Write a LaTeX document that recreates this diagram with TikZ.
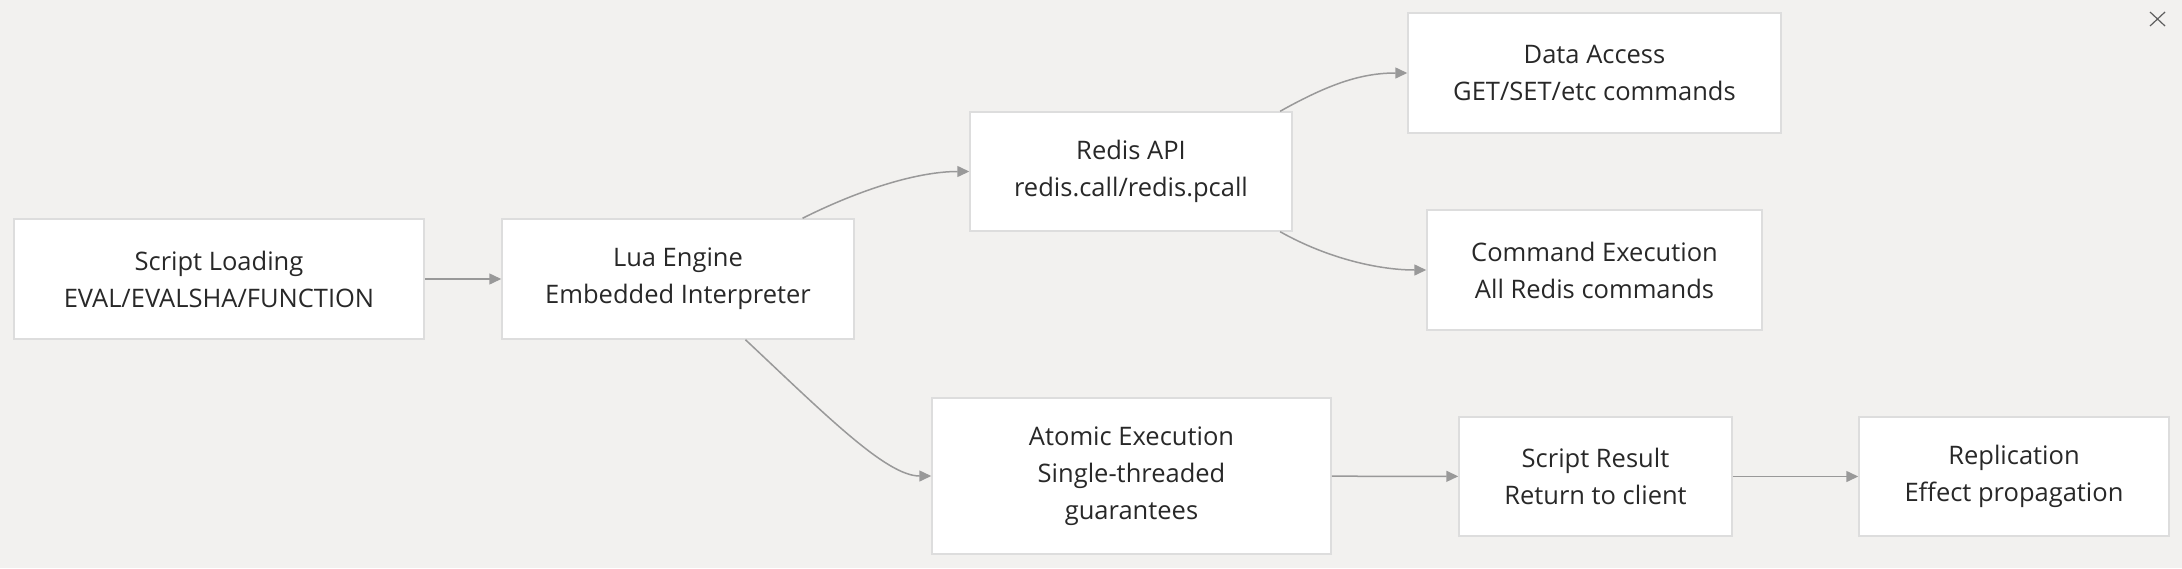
\documentclass[tikz,border=0pt]{standalone}
\usepackage{fontspec}
\setmainfont{Open Sans}
\usetikzlibrary{arrows.meta,positioning}
\definecolor{bggray}{RGB}{242,241,239}
\definecolor{boxline}{RGB}{221,221,221}
\definecolor{linkgray}{RGB}{153,153,153}
\definecolor{textgray}{RGB}{40,40,40}

\begin{document}
\begin{tikzpicture}[
    x=1pt, y=-1pt,
    box/.style={draw=boxline, fill=white, line width=1.5pt, align=center, text=textgray, font=\fontsize{25.5}{37}\selectfont, inner sep=0pt},
    arrow/.style={-{Triangle[length=12pt,width=11pt]}, draw=linkgray, line width=1.5pt}
]
    % background
    \fill[bggray] (0,0) rectangle (2182,568);

    % nodes
    \node[box, minimum width=410pt, minimum height=120pt] (load) at (219,279) {Script Loading\\EVAL/EVALSHA/FUNCTION};
    \node[box, minimum width=352pt, minimum height=120pt] (lua) at (678,279) {Lua Engine\\Embedded Interpreter};
    \node[box, minimum width=322pt, minimum height=119pt] (api) at (1131,171.5) {Redis API\\redis.call/redis.pcall};
    \node[box, minimum width=399pt, minimum height=156pt] (atomic) at (1131.5,476) {Atomic Execution\\Single-threaded\\guarantees};
    \node[box, minimum width=373pt, minimum height=120pt] (data) at (1594.5,73) {Data Access\\GET/SET/etc commands};
    \node[box, minimum width=335pt, minimum height=120pt] (cmd) at (1594.5,270) {Command Execution\\All Redis commands};
    \node[box, minimum width=273pt, minimum height=119pt] (result) at (1595.5,476.5) {Script Result\\Return to client};
    \node[box, minimum width=310pt, minimum height=119pt] (repl) at (2014,476.5) {Replication\\Effect propagation};

    % links
    \draw[arrow] (load) -- (lua);
    \draw[arrow] (lua.26) .. controls +(60,-30) and +(-50,0) .. (api.west);
    \draw[arrow] (lua.-42) .. controls +(80,75) and +(-45,0) .. (atomic.west);
    \draw[arrow] (api.22) .. controls +(50,-28) and +(-45,0) .. (data.west);
    \draw[arrow] (api.-22) .. controls +(50,28) and +(-45,0) .. (cmd.west);
    \draw[arrow] (atomic) -- (result);
    \draw[arrow] (result) -- (repl);

    % close mark
    \draw[textgray!75, line width=1.2pt] (2150,12) -- (2165,26) (2165,12) -- (2150,26);
\end{tikzpicture}
\end{document}
